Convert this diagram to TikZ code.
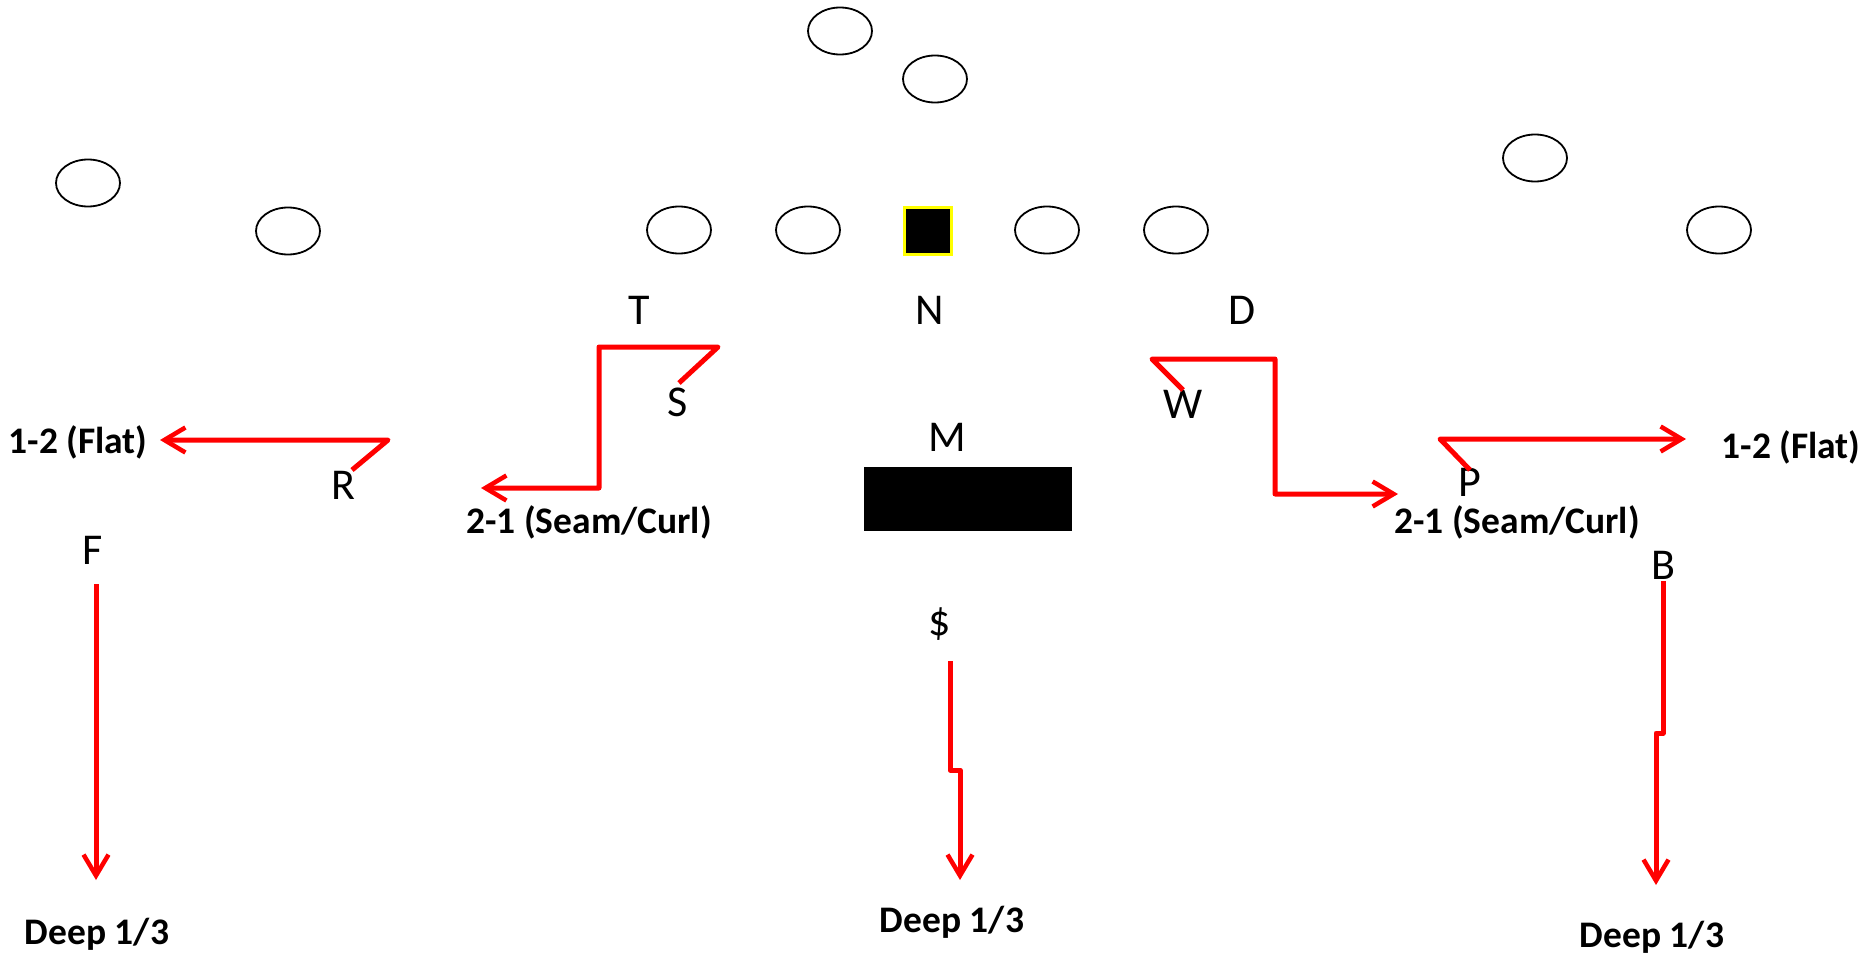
\documentclass[tikz,border=0pt]{standalone}
\usepackage{fontspec}
\setmainfont{Carlito}
\usetikzlibrary{arrows.meta,shapes.geometric}
\definecolor{RouteRed}{HTML}{FF0000}
\definecolor{CenterYellow}{HTML}{FFFF00}

\begin{document}
\begin{tikzpicture}[
      x=1pt, y=-1pt,
      oline/.style={
        ellipse,
        draw=black,
        line width=1.8pt,
        minimum width=64pt,
        minimum height=47pt,
        inner sep=0pt
      },
      center/.style={
        rectangle,
        fill=black,
        draw=CenterYellow,
        line width=3pt,
        minimum size=47pt,
        inner sep=0pt
      },
      defender/.style={inner sep=0pt, font=\fontsize{44}{50}\selectfont},
      zone/.style={inner sep=0pt, font=\fontsize{37.5}{42}\selectfont\bfseries},
      route/.style={draw=RouteRed, line width=5pt, line join=round},
      drop/.style={route, -{Straight Barb[length=21pt, width=25pt, line width=4.5pt]}}
    ]
      \useasboundingbox (0,0) rectangle (1872,958);

      % offense
      \node[oline] (qb) at (840,31) {};
      \node[oline] (hb) at (935,79) {};
      \node[oline] (xl) at (88,183) {};
      \node[oline] (zl) at (288,231) {};
      \node[oline] (lt) at (679,230) {};
      \node[oline] (lg) at (808,230) {};
      \node[center] (ctr) at (928,231) {};
      \node[oline] (rg) at (1047,230) {};
      \node[oline] (rt) at (1176,230) {};
      \node[oline] (sl) at (1535,158) {};
      \node[oline] (xr) at (1719,230) {};

      % defense
      \node[defender] (T) at (639,310) {T};
      \node[defender] (N) at (930,310) {N};
      \node[defender] (D) at (1242,310) {D};
      \node[defender] (S) at (678,402) {S};
      \node[defender] (W) at (1183,404) {W};
      \node[defender] (M) at (947,437) {M};
      \node[defender] (R) at (343,485) {R};
      \node[defender] (P) at (1470,482) {P};
      \node[defender] (F) at (93,550) {F};
      \node[defender] (B) at (1663,565) {B};
      \node[defender] (Dol) at (940,624) {\$};
      \fill (864,467) rectangle (1072,531);

      % zone labels
      \node[zone] (flatL) at (78,442) {1-2 (Flat)};
      \node[zone] (flatR) at (1791,447) {1-2 (Flat)};
      \node[zone] (seamL) at (589,522) {2-1 (Seam/Curl)};
      \node[zone] (seamR) at (1517,522) {2-1 (Seam/Curl)};
      \node[zone] (deepL) at (97,934) {Deep 1/3};
      \node[zone] (deepM) at (952,922) {Deep 1/3};
      \node[zone] (deepR) at (1652,937) {Deep 1/3};

      % route points
      \coordinate (f0) at (96,584);
      \coordinate (f1) at (96,880);
      \coordinate (r0) at (352,470);
      \coordinate (r1) at (388,440);
      \coordinate (r2) at (160,440);
      \coordinate (s0) at (679,383);
      \coordinate (s1) at (718,347);
      \coordinate (s2) at (599,347);
      \coordinate (s3) at (599,488);
      \coordinate (s4) at (481,488);
      \coordinate (w0) at (1183,390);
      \coordinate (w1) at (1152,359);
      \coordinate (w2) at (1275,359);
      \coordinate (w3) at (1275,494);
      \coordinate (w4) at (1398,494);
      \coordinate (p0) at (1470,470);
      \coordinate (p1) at (1440,439);
      \coordinate (p2) at (1686,439);
      \coordinate (d0) at (950,661);
      \coordinate (d1) at (950,770);
      \coordinate (d2) at (960,770);
      \coordinate (d3) at (960,880);
      \coordinate (b0) at (1663,581);
      \coordinate (b1) at (1663,733);
      \coordinate (b2) at (1656,733);
      \coordinate (b3) at (1656,885);

      % drops
      \draw[drop] (f0) -- (f1);
      \draw[drop] (r0) -- (r1) -- (r2);
      \draw[drop] (s0) -- (s1) -- (s2) -- (s3) -- (s4);
      \draw[drop] (w0) -- (w1) -- (w2) -- (w3) -- (w4);
      \draw[drop] (p0) -- (p1) -- (p2);
      \draw[drop] (d0) -- (d1) -- (d2) -- (d3);
      \draw[drop] (b0) -- (b1) -- (b2) -- (b3);
    \end{tikzpicture}
\end{document}
